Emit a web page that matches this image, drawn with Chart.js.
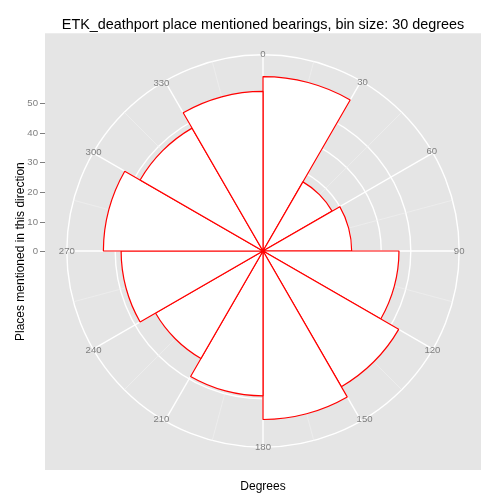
<!DOCTYPE html>
<html>
<head>
<meta charset="utf-8">
<title>ETK_deathport bearings</title>
<script src="https://cdn.jsdelivr.net/npm/chart.js@4.4.0/dist/chart.umd.min.js"></script>
<style>
  html, body { margin: 0; padding: 0; background: #fff; }
  canvas { display: block; }
</style>
</head>
<body>
<canvas id="rose" width="500" height="500"></canvas>
<script>
// places per 30 degree bin, clockwise from north (0-30, 30-60, ...)
const thetaTicks = [0, 30, 60, 90, 120, 150, 180, 210, 240, 270, 300, 330];
const placeCounts = [59, 27, 30, 46, 53, 57, 49, 42, 48, 54, 48, 54];
// radius / left axis ticks
const rTicks = [0, 10, 20, 30, 40, 50];

// ggplot polar: biggest bar reaches 0.4 of the panel, outer ring + labels at 0.45
const BAR_FRAC = 0.4, RING_FRAC = 0.45;
const rMax = Math.max(...placeCounts);
const ringValue = rMax * RING_FRAC / BAR_FRAC;
const halfPanel = rMax * 0.5 / BAR_FRAC;

const FONT = '"Liberation Sans", Arial, sans-serif';
const GREY = '#7f7f7f';
const tickFont = { family: FONT, size: 9.6 };
const titleFont = { family: FONT, size: 12 };

// a spoke every 15 degrees: majors white, minors faint
const spokeLabels = thetaTicks.flatMap(t => [String(t), '']);
const thetaLabels = thetaTicks.map(String);

const panelBg = {
  id: 'panelBg',
  beforeDraw(chart) {
    const { ctx, chartArea: a } = chart;
    ctx.save();
    ctx.fillStyle = '#e5e5e5';
    ctx.fillRect(a.left, a.top, a.right - a.left, a.bottom - a.top);
    ctx.restore();
  }
};

const toRing = s => { s.drawingArea = s.drawingArea * RING_FRAC / 0.5; };

// pull each theta label inwards so it sits centred on the outer ring
function labelPad(c) {
  const a = c.index * 2 * Math.PI / thetaLabels.length;
  const g = c.chart.ctx;
  g.save();
  g.font = tickFont.size + 'px ' + FONT;
  const w = g.measureText(c.label).width;
  g.restore();
  const h = tickFont.size * 1.2;
  return -(w / 2 * Math.abs(Math.sin(a)) + h / 2 * Math.abs(Math.cos(a)));
}

new Chart(document.getElementById('rose'), {
  type: 'polarArea',
  data: {
    labels: thetaLabels,
    datasets: [{
      label: 'Places',
      data: placeCounts,
      rAxisID: 'r',
      backgroundColor: '#ffffff',
      borderColor: '#ff0000',
      borderWidth: 1.2
    }]
  },
  plugins: [panelBg],
  options: {
    responsive: false,
    animation: false,
    layout: { padding: { right: 19 } },
    plugins: {
      legend: { display: false },
      tooltip: { enabled: false },
      title: {
        display: true,
        text: 'ETK_deathport place mentioned bearings, bin size: 30 degrees',
        color: '#000',
        font: { family: FONT, size: 14.4, weight: 'normal' },
        padding: { top: 16.5, bottom: -0.5 },
        fullSize: false
      }
    },
    scales: {
      // grid: rings and spokes
      r: {
        type: 'radialLinear',
        axis: 'r',
        labels: spokeLabels,
        min: 0,
        max: ringValue,
        startAngle: 0,
        afterSetDimensions: toRing,
        afterBuildTicks(s) { s.ticks = rTicks.concat([ringValue]).map(v => ({ value: v })); },
        ticks: { display: false },
        grid: { circular: true, color: '#ffffff', lineWidth: 1.4 },
        angleLines: {
          display: true,
          color: c => (c.index % 2 ? '#f2f2f2' : '#ffffff'),
          lineWidth: c => (c.index % 2 ? 0.6 : 1.4)
        },
        pointLabels: { display: false }
      },
      // theta labels, drawn on top of the ring
      theta: {
        type: 'radialLinear',
        axis: 'r',
        labels: thetaLabels,
        min: 0,
        max: ringValue,
        startAngle: 0,
        afterSetDimensions: toRing,
        ticks: { display: false },
        grid: { display: false },
        angleLines: { display: false },
        pointLabels: { display: true, color: GREY, font: tickFont, padding: labelPad }
      },
      x: {
        type: 'linear',
        position: 'bottom',
        min: 0,
        max: 1,
        ticks: { display: false },
        grid: { display: false },
        border: { display: false },
        title: { display: true, text: 'Degrees', color: '#000', font: titleFont, padding: { top: 0, bottom: 6 } },
        afterFit(s) { s.height = 30; }
      },
      y: {
        type: 'linear',
        position: 'left',
        min: -halfPanel,
        max: halfPanel,
        afterBuildTicks(s) { s.ticks = rTicks.map(v => ({ value: v })); },
        ticks: { color: GREY, font: tickFont, padding: 2 },
        grid: { drawOnChartArea: false, drawTicks: true, tickLength: 5, color: GREY, lineWidth: 1 },
        border: { display: false },
        title: { display: true, text: 'Places mentioned in this direction', color: '#000', font: titleFont, padding: { top: 13, bottom: 0 } },
        afterFit(s) { s.width = 45; }
      }
    }
  }
});
</script>
</body>
</html>
